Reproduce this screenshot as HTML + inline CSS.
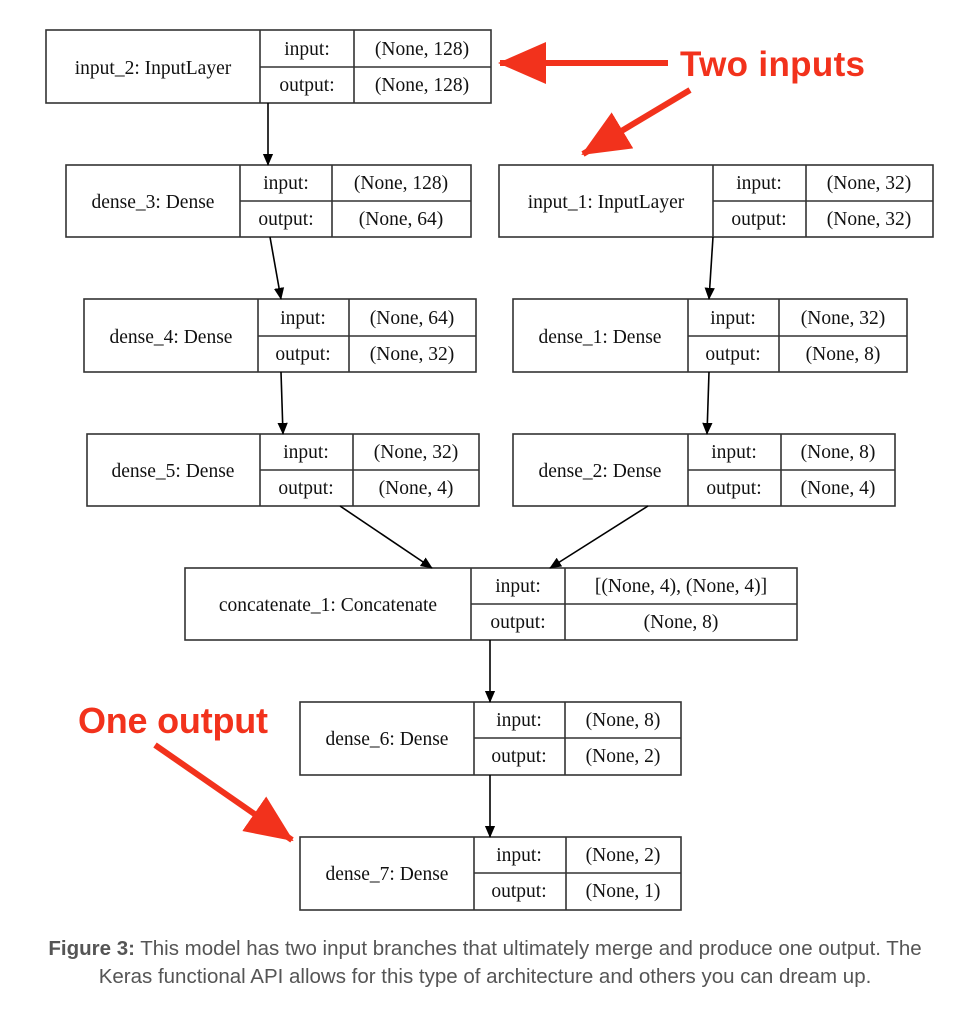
<!DOCTYPE html>
<html><head><meta charset="utf-8"><style>
body{margin:0;background:#fff;width:970px;height:1024px;overflow:hidden}
svg{position:absolute;left:0;top:0}
.cap{position:absolute;left:0;width:970px;text-align:center;font-family:"Liberation Sans",sans-serif;font-size:20.5px;color:#555;line-height:28px}
</style></head><body>
<svg width="970" height="940" viewBox="0 0 970 940">
<defs>
<marker id="a" markerWidth="12" markerHeight="14" refX="13" refY="6" orient="auto" markerUnits="userSpaceOnUse" viewBox="0 0 14 12"><path d="M0,0 L14,6 L0,12z" fill="#000"/></marker>
<marker id="r" markerWidth="48" markerHeight="48" refX="46" refY="24" orient="auto" markerUnits="userSpaceOnUse" viewBox="0 0 48 48"><path d="M0,3 L48,24 L0,45z" fill="#f2321c"/></marker>
</defs>
<g stroke="#333" stroke-width="1.6" fill="none">
<rect x="46" y="30" width="445" height="73"/><line x1="260" y1="30" x2="260" y2="103"/><line x1="354" y1="30" x2="354" y2="103"/><line x1="260" y1="67" x2="491" y2="67"/>
<rect x="66" y="165" width="405" height="72"/><line x1="240" y1="165" x2="240" y2="237"/><line x1="332" y1="165" x2="332" y2="237"/><line x1="240" y1="201" x2="471" y2="201"/>
<rect x="499" y="165" width="434" height="72"/><line x1="713" y1="165" x2="713" y2="237"/><line x1="806" y1="165" x2="806" y2="237"/><line x1="713" y1="201" x2="933" y2="201"/>
<rect x="84" y="299" width="392" height="73"/><line x1="258" y1="299" x2="258" y2="372"/><line x1="349" y1="299" x2="349" y2="372"/><line x1="258" y1="336" x2="476" y2="336"/>
<rect x="513" y="299" width="394" height="73"/><line x1="688" y1="299" x2="688" y2="372"/><line x1="779" y1="299" x2="779" y2="372"/><line x1="688" y1="336" x2="907" y2="336"/>
<rect x="87" y="434" width="392" height="72"/><line x1="260" y1="434" x2="260" y2="506"/><line x1="353" y1="434" x2="353" y2="506"/><line x1="260" y1="470" x2="479" y2="470"/>
<rect x="513" y="434" width="382" height="72"/><line x1="688" y1="434" x2="688" y2="506"/><line x1="781" y1="434" x2="781" y2="506"/><line x1="688" y1="470" x2="895" y2="470"/>
<rect x="185" y="568" width="612" height="72"/><line x1="471" y1="568" x2="471" y2="640"/><line x1="565" y1="568" x2="565" y2="640"/><line x1="471" y1="604" x2="797" y2="604"/>
<rect x="300" y="702" width="381" height="73"/><line x1="474" y1="702" x2="474" y2="775"/><line x1="565" y1="702" x2="565" y2="775"/><line x1="474" y1="738" x2="681" y2="738"/>
<rect x="300" y="837" width="381" height="73"/><line x1="474" y1="837" x2="474" y2="910"/><line x1="566" y1="837" x2="566" y2="910"/><line x1="474" y1="873" x2="681" y2="873"/>
</g>
<g stroke="#000" stroke-width="1.6" marker-end="url(#a)">
<line x1="268" y1="103" x2="268" y2="165"/>
<line x1="270" y1="237" x2="281" y2="299"/>
<line x1="281" y1="372" x2="283" y2="434"/>
<line x1="713" y1="237" x2="709" y2="299"/>
<line x1="709" y1="372" x2="707" y2="434"/>
<line x1="340" y1="506" x2="432" y2="568"/>
<line x1="648" y1="506" x2="550" y2="568"/>
<line x1="490" y1="640" x2="490" y2="702"/>
<line x1="490" y1="775" x2="490" y2="837"/>
</g>
<g font-family="Liberation Serif,serif" font-size="19.5" fill="#111" text-anchor="middle">
<text x="153" y="74">input_2: InputLayer</text><text x="307" y="55">input:</text><text x="307" y="91">output:</text><text x="422" y="55">(None, 128)</text><text x="422" y="91">(None, 128)</text>
<text x="153" y="208">dense_3: Dense</text><text x="286" y="189">input:</text><text x="286" y="225">output:</text><text x="401" y="189">(None, 128)</text><text x="401" y="225">(None, 64)</text>
<text x="606" y="208">input_1: InputLayer</text><text x="759" y="189">input:</text><text x="759" y="225">output:</text><text x="869" y="189">(None, 32)</text><text x="869" y="225">(None, 32)</text>
<text x="171" y="343">dense_4: Dense</text><text x="303" y="324">input:</text><text x="303" y="360">output:</text><text x="412" y="324">(None, 64)</text><text x="412" y="360">(None, 32)</text>
<text x="600" y="343">dense_1: Dense</text><text x="733" y="324">input:</text><text x="733" y="360">output:</text><text x="843" y="324">(None, 32)</text><text x="843" y="360">(None, 8)</text>
<text x="173" y="477">dense_5: Dense</text><text x="306" y="458">input:</text><text x="306" y="494">output:</text><text x="416" y="458">(None, 32)</text><text x="416" y="494">(None, 4)</text>
<text x="600" y="477">dense_2: Dense</text><text x="734" y="458">input:</text><text x="734" y="494">output:</text><text x="838" y="458">(None, 8)</text><text x="838" y="494">(None, 4)</text>
<text x="328" y="611">concatenate_1: Concatenate</text><text x="518" y="592">input:</text><text x="518" y="628">output:</text><text x="681" y="592">[(None, 4), (None, 4)]</text><text x="681" y="628">(None, 8)</text>
<text x="387" y="745">dense_6: Dense</text><text x="519" y="726">input:</text><text x="519" y="762">output:</text><text x="623" y="726">(None, 8)</text><text x="623" y="762">(None, 2)</text>
<text x="387" y="880">dense_7: Dense</text><text x="519" y="861">input:</text><text x="519" y="897">output:</text><text x="623" y="861">(None, 2)</text><text x="623" y="897">(None, 1)</text>
</g>
<g stroke="#f2321c" stroke-width="6" marker-end="url(#r)">
<line x1="668" y1="63" x2="500" y2="63"/>
<line x1="690" y1="90" x2="583" y2="154"/>
<line x1="155" y1="745" x2="292" y2="840"/>
</g>
<g font-family="Liberation Sans,sans-serif" font-weight="bold" fill="#f2321c">
<text x="680" y="76" font-size="35" textLength="185">Two inputs</text>
<text x="78" y="733" font-size="36" textLength="190">One output</text>
</g>
</svg>
<div class="cap" style="top:935px"><b>Figure 3:</b> This model has two input branches that ultimately merge and produce one output. The<br>Keras functional API allows for this type of architecture and others you can dream up.</div>
</body></html>
